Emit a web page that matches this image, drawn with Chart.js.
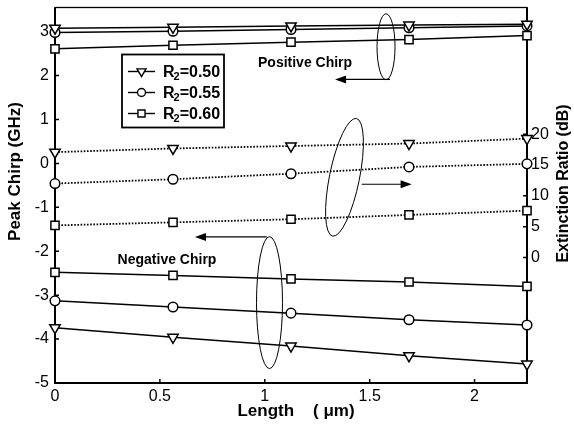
<!DOCTYPE html>
<html>
<head>
<meta charset="utf-8">
<script src="https://cdn.jsdelivr.net/npm/chart.js@4/dist/chart.umd.min.js"></script>
<style>
  html, body { margin: 0; padding: 0; background: #fff; }
  #wrap { width: 574px; height: 429px; }
</style>
</head>
<body>
<div id="wrap"><canvas id="chirpChart" width="574" height="429"></canvas></div>
<script>
// lengths along x (um)
const lengths = [0, 0.5625, 1.125, 1.6875, 2.25];
const seriesLabels = ["R\u2082=0.50", "R\u2082=0.55", "R\u2082=0.60"];

// peak chirp, positive branch (GHz)
const posChirpR050 = [3.08, 3.10, 3.13, 3.15, 3.17];
const posChirpR055 = [2.98, 3.01, 3.05, 3.09, 3.13];
const posChirpR060 = [2.61, 2.69, 2.76, 2.82, 2.91];

// peak chirp, negative branch (GHz)
const negChirpR050 = [-3.74, -3.96, -4.16, -4.38, -4.57];
const negChirpR055 = [-3.13, -3.27, -3.41, -3.56, -3.68];
const negChirpR060 = [-2.48, -2.55, -2.63, -2.70, -2.80];

// extinction ratio (dB), right axis
const extRatioR050 = [17.1, 17.7, 18.1, 18.5, 19.3];
const extRatioR055 = [12.0, 12.7, 13.6, 14.7, 15.2];
const extRatioR060 = [5.2, 5.7, 6.2, 6.9, 7.6];

const xTicks = [0, 0.5, 1, 1.5, 2];
const chirpTicks = [-5, -4, -3, -2, -1, 0, 1, 2, 3];
const ratioTicks = [0, 5, 10, 15, 20];

const FONT = "'Liberation Sans', Arial, sans-serif";

const markers = [
  { pointStyle: "triangle", rotation: 180, radius: 6 },
  { pointStyle: "circle", rotation: 0, radius: 4.8 },
  { pointStyle: "rect", rotation: 0, radius: 5.8 },
];

const makeSet = (values, idx, axis, dotted) => ({
  label: seriesLabels[idx],
  data: values.map((v, k) => ({ x: lengths[k], y: v })),
  yAxisID: axis,
  showLine: true,
  tension: 0,
  borderColor: "#000",
  borderWidth: dotted ? 1.8 : 1.5,
  borderDash: dotted ? [1.6, 1.6] : [],
  pointStyle: markers[idx].pointStyle,
  rotation: markers[idx].rotation,
  pointRadius: markers[idx].radius,
  pointBorderWidth: 1.5,
  pointBackgroundColor: "#fff",
  pointBorderColor: "#000",
  clip: false,
});

// annotation marks in data units (x, left axis y)
const ellipses = [
  { x: 1.578, y: 2.656, rx: 9, ry: 33, tilt: 0 },
  { x: 1.380, y: -0.316, rx: 15, ry: 60, tilt: 0.2 },
  { x: 1.0225, y: -3.17, rx: 13, ry: 66, tilt: 0 },
];
const arrows = [
  { x0: 1.597, x1: 1.335, y: 1.913 },
  { x0: 1.462, x1: 1.700, y: -0.475 },
  { x0: 1.009, x1: 0.667, y: -1.673 },
];
const notes = [
  { text: "Positive Chirp", x: 1.192, y: 2.277 },
  { text: "Negative Chirp", x: 0.534, y: -2.192 },
];

const drawMarker = (ctx, style, r, x, y) => {
  ctx.beginPath();
  if (style === "circle") {
    ctx.arc(x, y, r, 0, Math.PI * 2);
  } else if (style === "rect") {
    const s = r * Math.SQRT1_2;
    ctx.rect(x - s, y - s, 2 * s, 2 * s);
  } else {
    const h = r * Math.sin(Math.PI / 3);
    ctx.moveTo(x, y + r);
    ctx.lineTo(x - h, y - r / 2);
    ctx.lineTo(x + h, y - r / 2);
    ctx.closePath();
  }
  ctx.fill();
  ctx.stroke();
};

// "R₂=0.50" with the 2 drawn as a lowered small digit
const drawLegendLabel = (ctx, label, x, y) => {
  const [head, tail] = label.split("\u2082");
  ctx.font = "bold 16px " + FONT;
  ctx.fillText(head, x, y);
  let cx = x + ctx.measureText(head).width - 1;
  ctx.font = "bold 11px " + FONT;
  ctx.fillText("2", cx, y + 4);
  cx += ctx.measureText("2").width;
  ctx.font = "bold 16px " + FONT;
  ctx.fillText(tail, cx, y);
};

const frame = {
  id: "frame",
  beforeDatasetsDraw(chart) {
    const { ctx, chartArea: a, scales } = chart;
    ctx.save();
    ctx.strokeStyle = "#000";
    ctx.lineWidth = 1.3;
    ctx.strokeRect(a.left, a.top, a.right - a.left, a.bottom - a.top);
    ctx.lineWidth = 2;
    ctx.beginPath();
    ctx.moveTo(a.left, a.top);
    ctx.lineTo(a.left, a.bottom);
    ctx.lineTo(a.right, a.bottom);
    ctx.lineTo(a.right, a.top);
    ctx.stroke();
    ctx.lineWidth = 1.5;
    ctx.beginPath();
    scales.x.ticks.forEach((t) => {
      const px = scales.x.getPixelForValue(t.value);
      ctx.moveTo(px, a.bottom);
      ctx.lineTo(px, a.bottom - 4);
    });
    scales.y.ticks.forEach((t) => {
      const py = scales.y.getPixelForValue(t.value);
      ctx.moveTo(a.left, py);
      ctx.lineTo(a.left + 4, py);
    });
    scales.y2.ticks.forEach((t) => {
      const py = scales.y2.getPixelForValue(t.value);
      ctx.moveTo(a.right, py);
      ctx.lineTo(a.right - 4, py);
    });
    ctx.stroke();
    ctx.restore();
  },
};

const extras = {
  id: "extras",
  afterDatasetsDraw(chart) {
    const { ctx, chartArea: a, scales } = chart;
    const sx = (v) => scales.x.getPixelForValue(v);
    const sy = (v) => scales.y.getPixelForValue(v);
    ctx.save();
    ctx.strokeStyle = "#000";
    ctx.fillStyle = "#000";

    // ellipses
    ctx.lineWidth = 1;
    ellipses.forEach((e) => {
      ctx.beginPath();
      ctx.ellipse(sx(e.x), sy(e.y), e.rx, e.ry, e.tilt, 0, Math.PI * 2);
      ctx.stroke();
    });

    // arrows
    arrows.forEach((r) => {
      const x0 = sx(r.x0), x1 = sx(r.x1), y = sy(r.y);
      const dir = x1 > x0 ? 1 : -1;
      ctx.lineWidth = 1.2;
      ctx.beginPath();
      ctx.moveTo(x0, y);
      ctx.lineTo(x1 - dir * 9, y);
      ctx.stroke();
      ctx.beginPath();
      ctx.moveTo(x1, y);
      ctx.lineTo(x1 - dir * 11, y - 4);
      ctx.lineTo(x1 - dir * 11, y + 4);
      ctx.closePath();
      ctx.fill();
    });

    // notes
    ctx.font = "bold 14px " + FONT;
    ctx.textAlign = "center";
    ctx.textBaseline = "middle";
    notes.forEach((n) => ctx.fillText(n.text, sx(n.x), sy(n.y)));

    // legend box
    const lx = a.left + 67, ly = a.top + 47, lw = 102, lh = 73;
    ctx.fillStyle = "#fff";
    ctx.fillRect(lx, ly, lw, lh);
    ctx.lineWidth = 1.8;
    ctx.strokeRect(lx, ly, lw, lh);
    seriesLabels.forEach((label, i) => {
      const ry = ly + 17 + i * 21;
      ctx.lineWidth = 1.4;
      ctx.strokeStyle = "#000";
      ctx.beginPath();
      ctx.moveTo(lx + 6, ry);
      ctx.lineTo(lx + 33, ry);
      ctx.stroke();
      ctx.fillStyle = "#fff";
      drawMarker(ctx, markers[i].pointStyle, markers[i].radius - 0.8, lx + 19.5, ry);
      ctx.fillStyle = "#000";
      ctx.textAlign = "left";
      drawLegendLabel(ctx, label, lx + 41, ry + 1);
    });

    // axis titles
    ctx.fillStyle = "#000";
    ctx.textAlign = "center";
    ctx.textBaseline = "middle";
    ctx.font = "bold 17px " + FONT;
    ctx.fillText("Length    ( \u03bcm)", 296, 411);
    ctx.save();
    ctx.translate(15.5, 171.5);
    ctx.rotate(-Math.PI / 2);
    ctx.fillText("Peak Chirp (GHz)", 0, 0);
    ctx.restore();
    ctx.save();
    ctx.font = "bold 16px " + FONT;
    ctx.translate(564, 183.5);
    ctx.rotate(-Math.PI / 2);
    ctx.fillText("Extinction Ratio (dB)", 0, 0);
    ctx.restore();

    ctx.restore();
  },
};

const tickFont = { family: FONT, size: 16 };

// pin the box sizes so the plot area lands where the original one is
const fixBox = (size) => (s) => {
  if (s.isHorizontal()) s.height = size;
  else s.width = size;
  s.paddingTop = 0;
  s.paddingBottom = 0;
  s.paddingLeft = 0;
  s.paddingRight = 0;
};

const buildChart = () => {
  const ctx = document.getElementById("chirpChart").getContext("2d");
  new Chart(ctx, {
    type: "scatter",
    data: {
      datasets: [
        makeSet(posChirpR050, 0, "y", false),
        makeSet(posChirpR055, 1, "y", false),
        makeSet(posChirpR060, 2, "y", false),
        makeSet(negChirpR050, 0, "y", false),
        makeSet(negChirpR055, 1, "y", false),
        makeSet(negChirpR060, 2, "y", false),
        makeSet(extRatioR050, 0, "y2", true),
        makeSet(extRatioR055, 1, "y2", true),
        makeSet(extRatioR060, 2, "y2", true),
      ],
    },
    options: {
      responsive: false,
      animation: false,
      events: [],
      layout: { padding: { top: 7, left: 0, right: 0, bottom: 0 } },
      plugins: {
        legend: { display: false },
        tooltip: { enabled: false },
      },
      scales: {
        x: {
          type: "linear",
          position: "bottom",
          min: 0,
          max: 2.25,
          afterBuildTicks: (axis) => {
            axis.ticks = xTicks.map((value) => ({ value }));
          },
          afterFit: fixBox(46),
          ticks: {
            font: tickFont,
            color: "#000",
            padding: 4,
            maxRotation: 0,
            autoSkip: false,
            callback: (v) => String(v),
          },
          grid: { display: false, drawTicks: false },
          border: { display: false },
        },
        y: {
          type: "linear",
          position: "left",
          min: -5,
          max: 3.55,
          afterBuildTicks: (axis) => {
            axis.ticks = chirpTicks.map((value) => ({ value }));
          },
          afterFit: fixBox(55),
          ticks: {
            font: tickFont,
            color: "#000",
            padding: 6,
            autoSkip: false,
            callback: (v) => String(v),
          },
          grid: { display: false, drawTicks: false },
          border: { display: false },
        },
        y2: {
          type: "linear",
          position: "right",
          min: -20.4,
          max: 40.6,
          afterBuildTicks: (axis) => {
            axis.ticks = ratioTicks.map((value) => ({ value }));
          },
          afterFit: fixBox(47),
          ticks: {
            font: tickFont,
            color: "#000",
            padding: 4,
            autoSkip: false,
            callback: (v) => String(v),
          },
          grid: { display: false, drawTicks: false },
          border: { display: false },
        },
      },
    },
    plugins: [frame, extras],
  });
};

document.addEventListener("DOMContentLoaded", buildChart);
</script>
</body>
</html>
